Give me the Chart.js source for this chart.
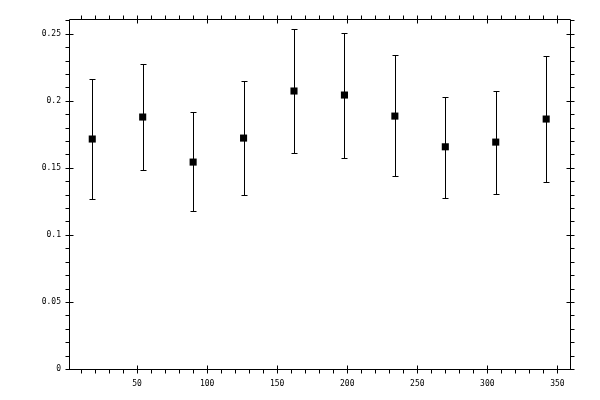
<!DOCTYPE html>
<html>
<head>
<meta charset="utf-8">
<script src="https://cdn.jsdelivr.net/npm/chart.js@4"></script>
<style>
  html, body { margin: 0; padding: 0; background: #fff; }
  #wrap { width: 600px; height: 400px; position: relative; }
</style>
</head>
<body>
<div id="wrap"><canvas id="chart"></canvas></div>
<script>
const xValues = [18, 54, 90, 126, 162, 198, 234, 270, 306, 342];
const yValues = [0.1715, 0.1879, 0.1543, 0.1722, 0.2073, 0.2043, 0.1886, 0.1657, 0.1692, 0.1864];
const yUpper = [0.2162, 0.2274, 0.1913, 0.2147, 0.2535, 0.2505, 0.2341, 0.2028, 0.2075, 0.2331];
const yLower = [0.1268, 0.1484, 0.1180, 0.1300, 0.1610, 0.1575, 0.1441, 0.1275, 0.1307, 0.1394];

const xTicks = [50, 100, 150, 200, 250, 300, 350];
const yTicks = [0, 0.05, 0.1, 0.15, 0.2, 0.25];
const yTickLabels = ['0', '0.05', '0.1', '0.15', '0.2', '0.25'];

const tickFont = { family: 'DejaVu Sans Mono', size: 8 };

// error bars, frame and tick marks all go through the chart scales
const framePlugin = {
    id: 'frame',
    beforeDatasetsDraw(chart) {
        const ctx = chart.ctx;
        const xs = chart.scales.x;
        const ys = chart.scales.y;
        ctx.save();
        ctx.strokeStyle = '#000';
        ctx.lineWidth = 1;
        ctx.beginPath();
        xValues.forEach((xv, i) => {
            const px = Math.round(xs.getPixelForValue(xv)) + 0.5;
            const top = Math.round(ys.getPixelForValue(yUpper[i])) + 0.5;
            const bot = Math.round(ys.getPixelForValue(yLower[i])) + 0.5;
            ctx.moveTo(px, top); ctx.lineTo(px, bot);
            ctx.moveTo(px - 3, top); ctx.lineTo(px + 3, top);
            ctx.moveTo(px - 3, bot); ctx.lineTo(px + 3, bot);
        });
        ctx.stroke();
        ctx.restore();
    },
    afterDraw(chart) {
        const ctx = chart.ctx;
        const a = chart.chartArea;
        const xs = chart.scales.x;
        const ys = chart.scales.y;
        const L = Math.round(a.left) + 0.5, R = Math.round(a.right) + 0.5;
        const T = Math.round(a.top) + 0.5, B = Math.round(a.bottom) + 0.5;
        ctx.save();
        ctx.strokeStyle = '#000';
        ctx.lineWidth = 1;
        ctx.beginPath();
        ctx.rect(L, T, R - L, B - T);
        // x ticks, every 10
        for (let v = 10; v <= xs.max; v += 10) {
            const px = Math.round(xs.getPixelForValue(v)) + 0.5;
            const major = v % 50 === 0;
            ctx.moveTo(px, B + 4); ctx.lineTo(px, major ? B - 4 : B);
            ctx.moveTo(px, T - 4); ctx.lineTo(px, major ? T + 4 : T);
        }
        // y ticks, every 0.01
        for (let k = 0; k / 100 <= ys.max; k++) {
            const py = Math.round(ys.getPixelForValue(k / 100)) + 0.5;
            const major = k % 5 === 0;
            ctx.moveTo(L - 4, py); ctx.lineTo(major ? L + 4 : L, py);
            ctx.moveTo(R + 4, py); ctx.lineTo(major ? R - 4 : R, py);
        }
        ctx.stroke();
        ctx.restore();
    }
};

const ctx = document.getElementById('chart').getContext('2d');

const chart = new Chart(ctx, {
    type: 'scatter',
    data: {
        datasets: [{
            data: xValues.map((x, i) => ({ x: x, y: yValues[i] })),
            backgroundColor: '#000',
            borderWidth: 0,
            pointStyle: 'rect',
            pointRadius: 5
        }]
    },
    options: {
        responsive: true,
        maintainAspectRatio: false,
        animation: false,
        devicePixelRatio: 1,
        layout: { padding: { top: 19, right: 30, left: 0, bottom: 0 } },
        plugins: {
            legend: { display: false },
            tooltip: { enabled: false }
        },
        scales: {
            x: {
                type: 'linear',
                min: 1.4,
                max: 359,
                grid: { display: false },
                border: { display: false },
                afterBuildTicks: scale => { scale.ticks = xTicks.map(v => ({ value: v })); },
                afterFit: scale => { scale.height = 31; },
                ticks: { font: tickFont, color: '#000', padding: 2, maxRotation: 0, autoSkip: false }
            },
            y: {
                type: 'linear',
                min: 0,
                max: 0.261,
                grid: { display: false },
                border: { display: false },
                afterBuildTicks: scale => { scale.ticks = yTicks.map(v => ({ value: v })); },
                afterFit: scale => { scale.width = 69; },
                ticks: {
                    font: tickFont,
                    color: '#000',
                    padding: 0,
                    autoSkip: false,
                    callback: (v, i) => yTickLabels[i]
                }
            }
        }
    },
    plugins: [framePlugin]
});
</script>
</body>
</html>
